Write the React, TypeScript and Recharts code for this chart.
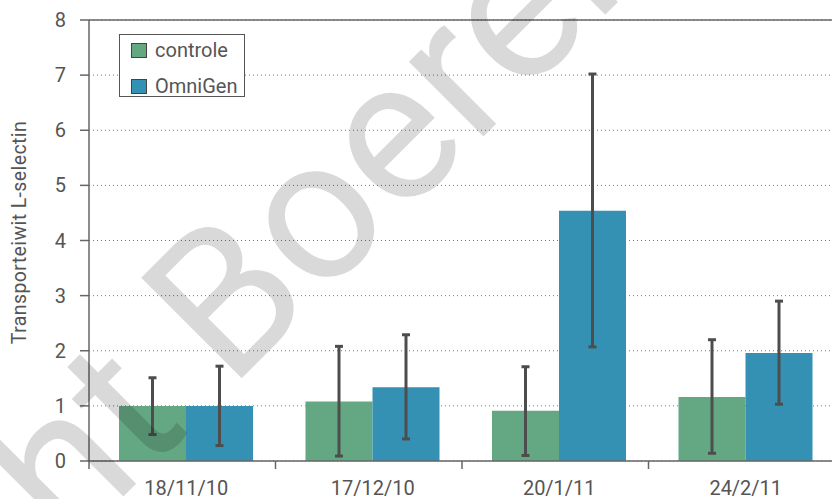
import React from 'react';
import {
  BarChart,
  Bar,
  XAxis,
  YAxis,
  CartesianGrid,
  ErrorBar,
  Legend,
  ReferenceLine,
} from 'recharts';

// sampling dates
const dates = ['18/11/10', '17/12/10', '20/1/11', '24/2/11'];

// controle group: mean with lower / upper end of the error bar
const controle = [1.0, 1.08, 0.91, 1.16];
const controleLow = [0.48, 0.09, 0.1, 0.14];
const controleHigh = [1.51, 2.08, 1.71, 2.2];

// OmniGen group
const omnigen = [1.0, 1.34, 4.54, 1.96];
const omnigenLow = [0.28, 0.4, 2.07, 1.03];
const omnigenHigh = [1.72, 2.29, 7.02, 2.9];

const yTicks = [0, 1, 2, 3, 4, 5, 6, 7, 8];

const GREEN = '#64a883';
const BLUE = '#3591b3';
const INK = '#555555';
const AXIS = '#666666';
const FONT = 'Roboto, sans-serif';

const TICK_SIZE = 8;
const TICK_MARGIN = 12;
const BAND_SHIFT = 4; // bars/labels sit a few px right of the band centre in the original

const series = [
  { key: 'controle', name: 'controle', color: GREEN },
  { key: 'omnigen', name: 'OmniGen', color: BLUE },
];

const data = dates.map((date, i) => ({
  date,
  controle: controle[i],
  controleErr: [controle[i] - controleLow[i], controleHigh[i] - controle[i]],
  omnigen: omnigen[i],
  omnigenErr: [omnigen[i] - omnigenLow[i], omnigenHigh[i] - omnigen[i]],
}));

const LegendBox = () => (
  <div
    style={{
      position: 'relative',
      width: 126,
      height: 63,
      boxSizing: 'border-box',
      border: `1px solid ${INK}`,
      background: '#fff',
      fontFamily: FONT,
      fontSize: 20,
      color: INK,
    }}
  >
    {series.map((s, i) => (
      <div
        key={s.key}
        style={{ position: 'absolute', left: 11, top: 7 + i * 36, height: 16, display: 'flex', alignItems: 'center', whiteSpace: 'nowrap' }}
      >
        <span
          style={{
            display: 'inline-block',
            width: 16,
            height: 15,
            boxSizing: 'border-box',
            background: s.color,
            border: '1px solid #444',
          }}
        />
        <span style={{ marginLeft: 8, lineHeight: '16px' }}>{s.name}</span>
      </div>
    ))}
  </div>
);

// date label in the middle of the group, tick mark on the group's left edge
const DateTick = (props: any) => {
  const { x, y, payload } = props;
  const axisY = y - TICK_SIZE - TICK_MARGIN;
  const edge = x - (payload.offset || 0) - BAND_SHIFT;
  return (
    <g>
      <line x1={edge} x2={edge} y1={axisY} y2={axisY + TICK_SIZE} stroke={AXIS} strokeWidth={1.5} />
      <text x={x} y={y} dy="0.71em" textAnchor="middle" fill={INK} fontSize={20} fontFamily={FONT}>
        {payload.value}
      </text>
    </g>
  );
};

const YLabel = (props: any) => {
  const { viewBox } = props;
  const x = 19;
  const cy = viewBox.y + viewBox.height / 2 - 8;
  return (
    <text
      x={x}
      y={cy}
      transform={`rotate(-90 ${x} ${cy})`}
      textAnchor="middle"
      dominantBaseline="central"
      fill={INK}
      fontSize={19.5}
      letterSpacing={0.4}
      fontFamily={FONT}
    >
      Transporteiwit L-selectin
    </text>
  );
};

export default function App() {
  return (
    <div style={{ position: 'absolute', left: 0, top: 0, width: 832, height: 499, overflow: 'hidden', background: '#fff' }}>
      <BarChart
        width={839}
        height={499}
        data={data}
        margin={{ top: 20, right: 0, left: 0, bottom: 0 }}
        barCategoryGap={26}
        barGap={0}
      >
        <CartesianGrid vertical={false} stroke="#777" strokeDasharray="1 3" />
        <XAxis
          dataKey="date"
          height={38}
          padding={{ left: BAND_SHIFT, right: 0 }}
          tickLine={false}
          tickSize={TICK_SIZE}
          tickMargin={TICK_MARGIN}
          axisLine={{ stroke: AXIS, strokeWidth: 1.5 }}
          tick={<DateTick />}
        />
        <YAxis
          domain={[0, 8]}
          ticks={yTicks}
          width={89}
          tickSize={9}
          tickMargin={14}
          axisLine={{ stroke: AXIS, strokeWidth: 1.5 }}
          tickLine={{ stroke: AXIS, strokeWidth: 1.5 }}
          tick={{ fill: INK, fontSize: 20, fontFamily: FONT }}
          label={{ content: <YLabel /> }}
        />
        <ReferenceLine y={8} stroke={AXIS} strokeWidth={1.5} />
        <Legend
          layout="vertical"
          verticalAlign="middle"
          align="center"
          wrapperStyle={{ left: 119, top: 34, width: 'auto' }}
          content={<LegendBox />}
        />
        <Bar dataKey="controle" name="controle" fill={GREEN} isAnimationActive={false}>
          <ErrorBar dataKey="controleErr" direction="y" width={4} strokeWidth={3} stroke="#4d4d4d" isAnimationActive={false} />
        </Bar>
        <Bar dataKey="omnigen" name="OmniGen" fill={BLUE} isAnimationActive={false}>
          <ErrorBar dataKey="omnigenErr" direction="y" width={4} strokeWidth={3} stroke="#4d4d4d" isAnimationActive={false} />
        </Bar>
      </BarChart>
      <svg
        width={832}
        height={499}
        style={{ position: 'absolute', left: 0, top: 0, pointerEvents: 'none' }}
      >
        <g transform="translate(211 409) rotate(-45)" fill="rgba(0,0,0,0.15)" fontFamily={FONT} fontSize={200}>
          <text x={-27} y={0} textAnchor="end">Copyright</text>
          <text x={27} y={0} textAnchor="start">Boerenbusiness</text>
        </g>
      </svg>
    </div>
  );
}
